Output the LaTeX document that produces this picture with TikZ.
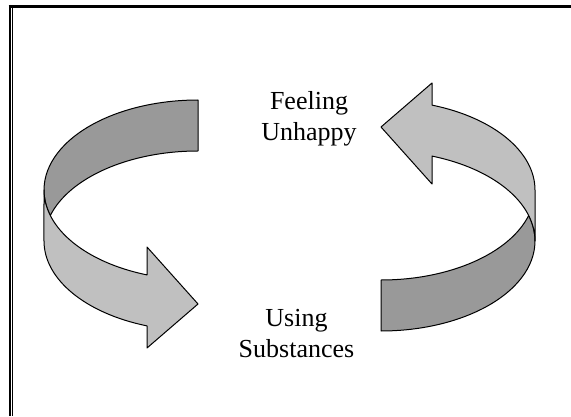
\documentclass[tikz,border=0pt]{standalone}
\usepackage{fontspec}
\setmainfont{Liberation Serif}
\definecolor{backband}{RGB}{153,153,153}
\definecolor{frontband}{RGB}{192,192,192}
\begin{document}
\begin{tikzpicture}[x=1pt,y=1pt,
  back/.style={draw,fill=backband,line width=1pt,line join=round},
  front/.style={draw,fill=frontband,line width=1pt,line join=round},
  label/.style={font=\fontsize{26}{30}\selectfont,anchor=base,inner sep=0pt}]
\useasboundingbox (0,0) rectangle (571,416);
% frame
\draw[line width=3pt] (8.5,409.5) -- (571,409.5);
\draw[line width=2.3pt] (10,411) -- (10,0);
\draw[line width=1.3pt] (12.7,408) -- (12.7,0);
% the two ribbons, the second one turned half round
\foreach \turn in {0,180}
{
  \begin{scope}[rotate around={\turn:(289.5,200.5)}]
    \draw[back] (198,316) arc[start angle=90,end angle=196.46,x radius=154,y radius=90]
      arc[start angle=163.54,end angle=90,x radius=154,y radius=90] -- cycle;
    \draw[front] (44,226) arc[start angle=180,end angle=250.66,x radius=154,y radius=90]
      -- (147,169) -- (198,112) -- (147,68) -- (147,90.1)
      arc[start angle=250.66,end angle=180,x radius=154,y radius=90] -- cycle;
  \end{scope}
}
% texts
\node[label] (feeling) at (309,306) {Feeling};
\node[label] (unhappy) at (309,276) {Unhappy};
\node[label] (using) at (296.5,90) {Using};
\node[label] (substances) at (296.5,59) {Substances};
\end{tikzpicture}
\end{document}
